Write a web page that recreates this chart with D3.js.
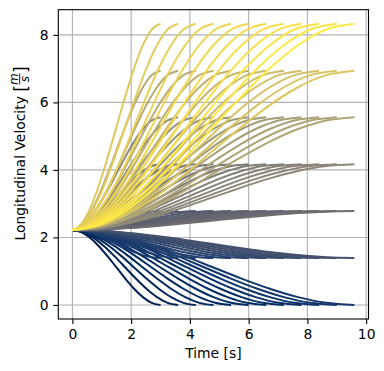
<!DOCTYPE html>
<html>
<head>
<meta charset="utf-8">
<script src="https://cdn.jsdelivr.net/npm/d3@7"></script>
<style>
  body { margin: 0; background: #fff; }
  svg { font-family: "DejaVu Sans", sans-serif; }
</style>
</head>
<body>
<div id="chart"></div>
<script>
// start speed and the target speeds (m/s) of each group of curves
var v0 = 2.22;
var targets = [0, 1.39, 2.78, 4.17, 5.56, 6.94, 8.33];
// end times of the curves in every group (s)
var durations = [3.0, 3.6, 4.2, 4.8, 5.4, 6.0, 6.6, 7.2, 7.8, 8.4, 9.0, 9.6];
// shape of one curve: fraction of the speed change at 0, 0.1, ... 1 of its duration
var profile = [0, 0.028, 0.104, 0.216, 0.352, 0.5, 0.648, 0.784, 0.896, 0.972, 1];
var xTicks = [0, 2, 4, 6, 8, 10];
var yTicks = [0, 2, 4, 6, 8];

var W = 384, H = 371;
var margin = {top: 9.7, right: 15.5, bottom: 52, left: 58.3};
var width = W - margin.left - margin.right,
    height = H - margin.top - margin.bottom;

var svg = d3.select("#chart")
  .append("svg")
    .attr("width", W)
    .attr("height", H);

var g = svg.append("g")
    .attr("transform", "translate(" + margin.left + "," + margin.top + ")");

var x = d3.scaleLinear().domain([-0.48, 10.08]).range([0, width]);
var y = d3.scaleLinear().domain([-0.4165, 8.7465]).range([height, 0]);

// grid
g.append("g").selectAll("line").data(xTicks).enter().append("line")
  .attr("x1", function(d) { return x(d); })
  .attr("x2", function(d) { return x(d); })
  .attr("y1", 0).attr("y2", height)
  .attr("stroke", "#b0b0b0").attr("stroke-width", 1.1);
g.append("g").selectAll("line").data(yTicks).enter().append("line")
  .attr("y1", function(d) { return y(d); })
  .attr("y2", function(d) { return y(d); })
  .attr("x1", 0).attr("x2", width)
  .attr("stroke", "#b0b0b0").attr("stroke-width", 1.1);

// build curves, outer loop over targets so the colour follows the index
var curves = [];
targets.forEach(function(v1) {
  durations.forEach(function(T) {
    var pts = profile.map(function(p, i) {
      return [T * i / (profile.length - 1), v0 + (v1 - v0) * p];
    });
    curves.push(pts);
  });
});

var line = d3.line()
  .x(function(d) { return x(d[0]); })
  .y(function(d) { return y(d[1]); })
  .curve(d3.curveMonotoneX);

g.append("g").selectAll("path").data(curves).enter().append("path")
  .attr("d", line)
  .attr("fill", "none")
  .attr("stroke-width", 2)
  .attr("stroke", function(d, i) { return d3.interpolateCividis(i / (curves.length - 1)); });

// axes
var xAxis = g.append("g")
  .attr("transform", "translate(0," + height + ")")
  .call(d3.axisBottom(x).tickValues(xTicks).tickSize(4.9).tickPadding(4.9));
var yAxis = g.append("g")
  .call(d3.axisLeft(y).tickValues(yTicks).tickSize(4.9).tickPadding(4.9));
[xAxis, yAxis].forEach(function(a) {
  a.select(".domain").remove();
  a.selectAll("line").attr("stroke", "#000").attr("stroke-width", 1.1);
  a.selectAll("text").attr("fill", "#000")
    .style("font-size", "13.9px").style("font-family", "DejaVu Sans");
});

// frame
g.append("rect")
  .attr("width", width).attr("height", height)
  .attr("fill", "none").attr("stroke", "#000").attr("stroke-width", 1.1);

// x label
svg.append("text")
  .attr("x", margin.left + width / 2)
  .attr("y", 357.5)
  .attr("text-anchor", "middle")
  .style("font-size", "13.9px")
  .text("Time [s]");

// y label with a fraction
var yl = svg.append("g");
var main = yl.append("text")
  .style("font-size", "13.9px")
  .text("Longitudinal Velocity");
var L = main.node().getComputedTextLength() + 4.4;
var lb = yl.append("text")
  .attr("x", L)
  .attr("y", 2)
  .style("font-size", "17px")
  .text("[");
var bw = lb.node().getComputedTextLength();
var fx = L + bw + 0.5;
yl.append("text")
  .attr("x", fx + 5.5).attr("y", -7)
  .attr("text-anchor", "middle")
  .style("font-size", "12px").style("font-style", "italic")
  .text("m");
yl.append("line")
  .attr("x1", fx).attr("x2", fx + 11)
  .attr("y1", -4.8).attr("y2", -4.8)
  .attr("stroke", "#000").attr("stroke-width", 0.9);
yl.append("text")
  .attr("x", fx + 5.5).attr("y", 4.8)
  .attr("text-anchor", "middle")
  .style("font-size", "12px").style("font-style", "italic")
  .text("s");
var rb = yl.append("text")
  .attr("x", fx + 11.5)
  .attr("y", 2)
  .style("font-size", "17px")
  .text("]");
var total = fx + 11.5 + rb.node().getComputedTextLength();
yl.attr("transform", "translate(24.5," + (153.5 + total / 2) + ") rotate(-90)");
</script>
</body>
</html>
